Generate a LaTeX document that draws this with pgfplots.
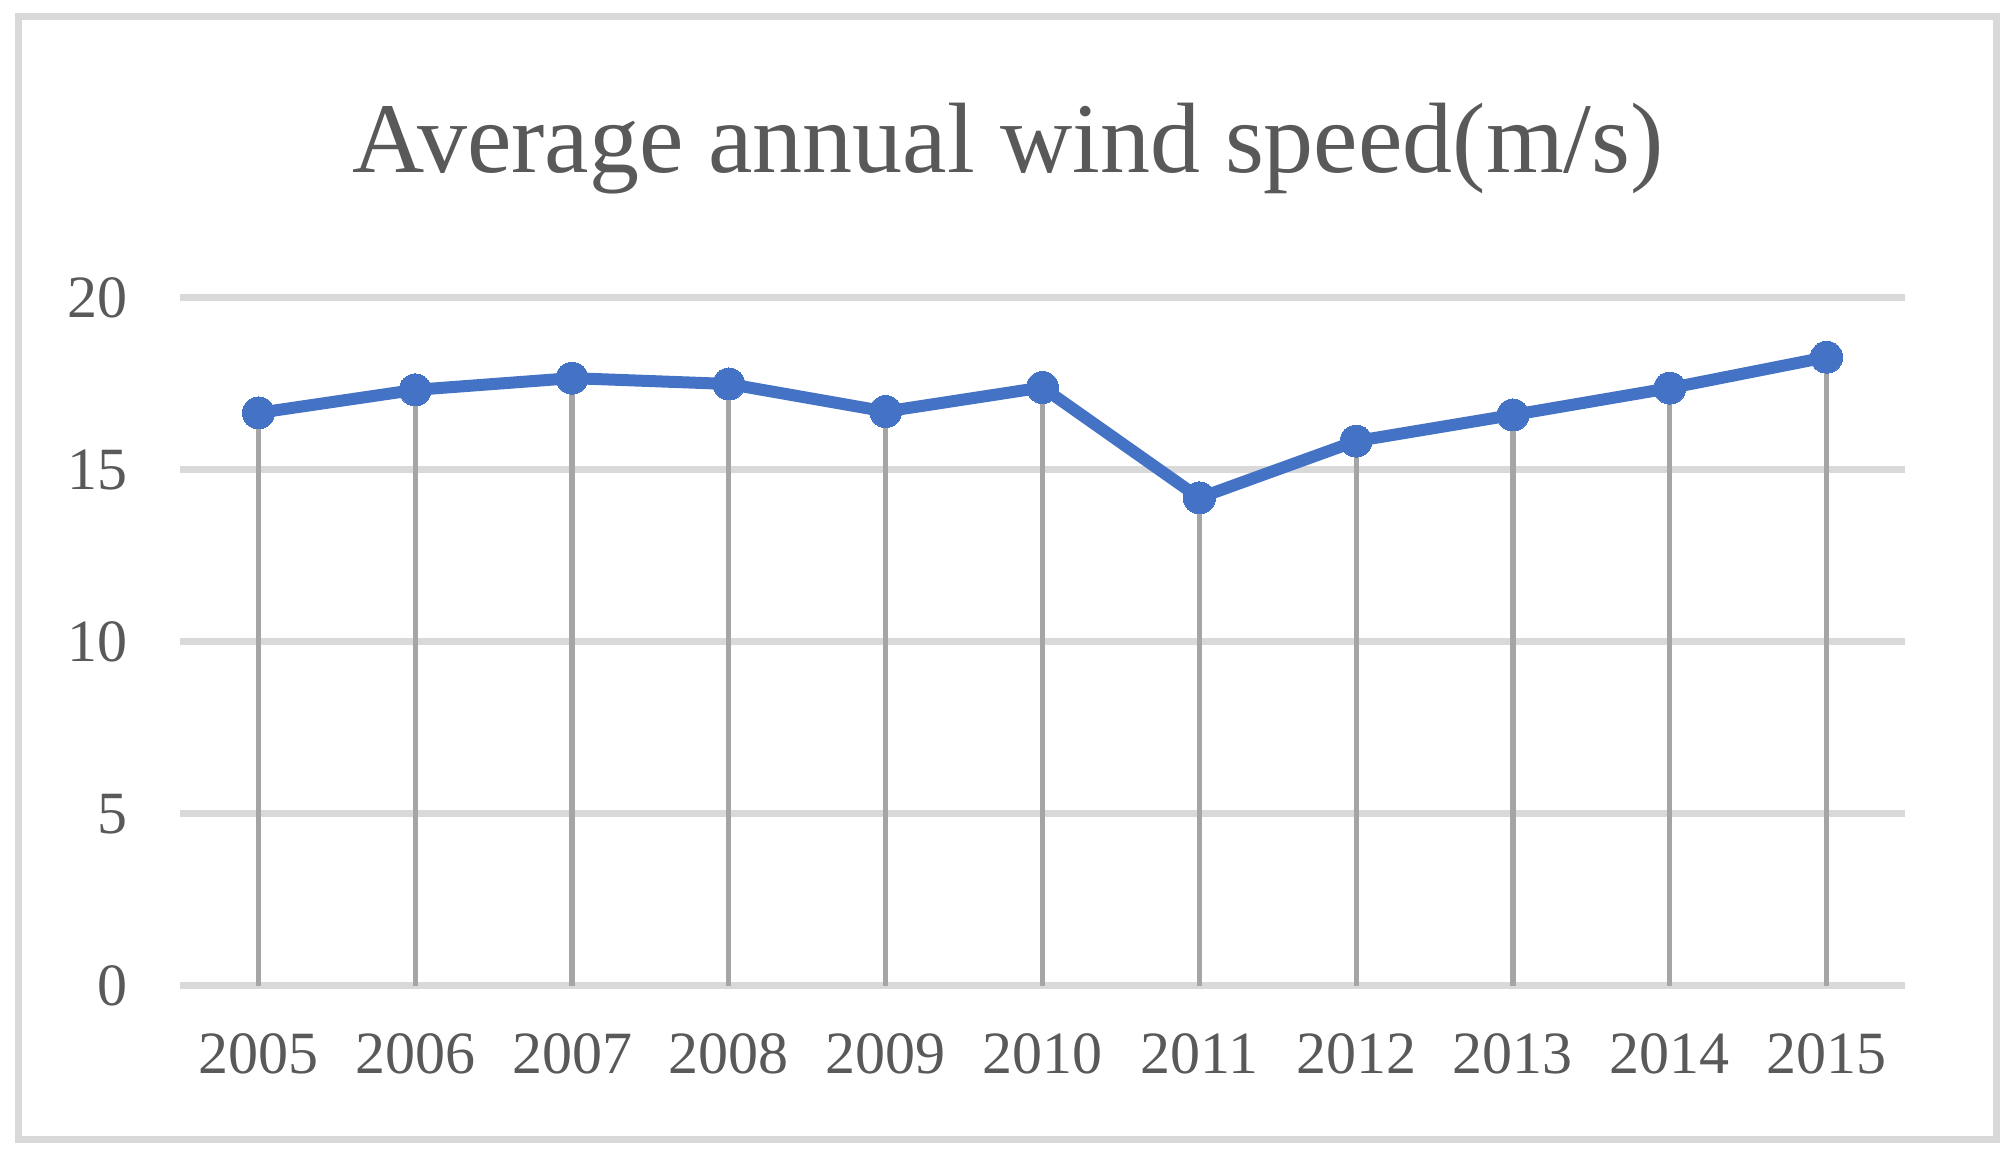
\documentclass[border=0pt]{standalone}
\usepackage{pgfplots}
\pgfplotsset{compat=1.18}
\usepackage{fontspec}
\setmainfont{Liberation Serif}
\definecolor{txt}{HTML}{595959}
\definecolor{gridc}{HTML}{D9D9D9}
\definecolor{dropc}{HTML}{A5A5A5}
\definecolor{lineblue}{HTML}{4472C4}

\begin{document}
\begin{tikzpicture}
\path[use as bounding box] (0pt,0pt) rectangle (503.25pt,288.25pt);
\draw[gridc, line width=1.75pt] (4.5pt,3.25pt) rectangle (499pt,284pt);
\node[txt, anchor=base, inner sep=0pt, font=\fontsize{25}{30}\selectfont] at (252pt,245pt) {Average annual wind speed(m/s)};
\begin{axis}[
    at={(45pt,41.75pt)}, anchor=south west,
    scale only axis, width=431.25pt, height=172pt,
    xmin=2004.5, xmax=2015.5, ymin=0, ymax=20,
    xtick={2005,...,2015}, ytick={0,5,...,20},
    /pgf/number format/1000 sep={},
    /pgf/number format/assume math mode=true,
    ymajorgrids, grid style={gridc, line width=1.75pt},
    axis line style={draw=none}, major tick length=0pt,
    ticklabel style={font=\fontsize{15}{18}\selectfont, text=txt},
    xticklabel style={anchor=north, inner sep=0pt, yshift=-11.75pt},
    yticklabel style={anchor=east, inner sep=0pt, xshift=-13pt},
    clip=false,
]
% speed line
\addplot[lineblue, line width=3pt, mark=*, mark size=4pt,
    mark options={solid, fill=lineblue, draw=lineblue, line width=0pt}]
    coordinates { (2005,16.66) (2006,17.33) (2007,17.67) (2008,17.50) (2009,16.70) (2010,17.40)
                  (2011,14.19) (2012,15.84) (2013,16.60) (2014,17.38) (2015,18.28) };
% drop lines
\addplot[dropc, line width=1.3pt, ycomb, no marks]
    coordinates { (2005,16.66) (2006,17.33) (2007,17.67) (2008,17.50) (2009,16.70) (2010,17.40)
                  (2011,14.19) (2012,15.84) (2013,16.60) (2014,17.38) (2015,18.28) };
\end{axis}
\end{tikzpicture}
\end{document}
